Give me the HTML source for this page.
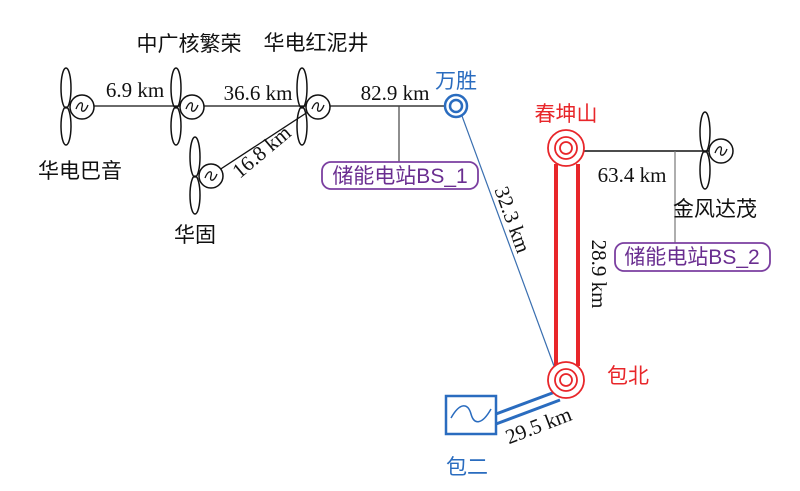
<!DOCTYPE html>
<html><head><meta charset="utf-8"><style>
body{margin:0;background:#fff;}
svg{display:block;}
.cn{font-family:"Liberation Sans","Noto Sans CJK SC",sans-serif;font-size:21px;}
.km{font-family:"Liberation Serif",serif;font-size:21px;fill:#111;}
</style></head><body>
<svg width="800" height="491" viewBox="0 0 800 491" xmlns="http://www.w3.org/2000/svg">
<defs>
<g id="wt">
  <ellipse cx="-16" cy="-19" rx="5" ry="20" fill="none" stroke="#111" stroke-width="1.5"/>
  <ellipse cx="-16" cy="19" rx="5" ry="19" fill="none" stroke="#111" stroke-width="1.5"/>
  <circle cx="0" cy="0" r="12" fill="#fff" stroke="#111" stroke-width="1.5"/>
  <path d="M-6,2 C-3,-6 2,-6 0,0 C-2,6 3,6 6,-2" fill="none" stroke="#111" stroke-width="1.3"/>
</g>
</defs>
<line x1="82" y1="106" x2="450" y2="106" stroke="#111" stroke-width="1.3"/>
<line x1="210" y1="176" x2="317" y2="106" stroke="#111" stroke-width="1.3"/>
<line x1="399" y1="106" x2="399" y2="163" stroke="#444" stroke-width="1.2"/>
<line x1="462" y1="116" x2="554" y2="366" stroke="#3a6fb0" stroke-width="1.2"/>
<line x1="583" y1="151" x2="716" y2="151" stroke="#111" stroke-width="1.5"/>
<line x1="675" y1="151" x2="675" y2="244" stroke="#777" stroke-width="1.2"/>
<line x1="556" y1="164" x2="556" y2="366" stroke="#e8262a" stroke-width="4"/>
<line x1="578" y1="164" x2="578" y2="366" stroke="#e8262a" stroke-width="4"/>
<line x1="496" y1="414" x2="555" y2="392" stroke="#2a6cbf" stroke-width="3"/>
<line x1="496" y1="424" x2="560" y2="400" stroke="#2a6cbf" stroke-width="3"/>
<use href="#wt" x="82" y="107"/>
<use href="#wt" x="192" y="107"/>
<use href="#wt" x="318" y="107"/>
<use href="#wt" x="211" y="176"/>
<use href="#wt" x="721" y="151"/>
<circle cx="456" cy="106" r="11" fill="#fff" stroke="#2a6cbf" stroke-width="2.5"/>
<circle cx="456" cy="106" r="6" fill="none" stroke="#2a6cbf" stroke-width="2.5"/>
<circle cx="566" cy="148" r="18" fill="#fff" stroke="#e8262a" stroke-width="1.8"/>
<circle cx="566" cy="148" r="11" fill="none" stroke="#e8262a" stroke-width="1.8"/>
<circle cx="566" cy="148" r="6" fill="none" stroke="#e8262a" stroke-width="1.8"/>
<circle cx="566" cy="380" r="18" fill="#fff" stroke="#e8262a" stroke-width="1.8"/>
<circle cx="566" cy="380" r="11" fill="none" stroke="#e8262a" stroke-width="1.8"/>
<circle cx="566" cy="380" r="6" fill="none" stroke="#e8262a" stroke-width="1.8"/>
<rect x="446" y="396" width="50" height="38" fill="#fff" stroke="#2a6cbf" stroke-width="2.5"/>
<path d="M451,418 C460,402 468,403 471,414 C474,425 482,425 491,409" fill="none" stroke="#2a6cbf" stroke-width="1.5"/>
<rect x="322" y="162" width="156" height="27" rx="9" fill="#fff" stroke="#7b3fa0" stroke-width="1.8"/>
<text x="400" y="183" class="cn" fill="#6a2e90" text-anchor="middle" font-size="19">储能电站BS_1</text>
<rect x="615" y="243" width="155" height="28" rx="9" fill="#fff" stroke="#7b3fa0" stroke-width="1.8"/>
<text x="692" y="264" class="cn" fill="#6a2e90" text-anchor="middle" font-size="19">储能电站BS_2</text>
<text x="189" y="51" class="cn" fill="#111" text-anchor="middle">中广核繁荣</text>
<text x="316" y="50" class="cn" fill="#111" text-anchor="middle">华电红泥井</text>
<text x="80" y="178" class="cn" fill="#111" text-anchor="middle">华电巴音</text>
<text x="195" y="242" class="cn" fill="#111" text-anchor="middle">华固</text>
<text x="456" y="88" class="cn" fill="#2a6cbf" text-anchor="middle">万胜</text>
<text x="566" y="121" class="cn" fill="#e8262a" text-anchor="middle">春坤山</text>
<text x="628" y="383" class="cn" fill="#e8262a" text-anchor="middle">包北</text>
<text x="467" y="474" class="cn" fill="#2a6cbf" text-anchor="middle">包二</text>
<text x="715" y="216" class="cn" fill="#111" text-anchor="middle">金风达茂</text>
<text x="135" y="97" class="km" text-anchor="middle">6.9 km</text>
<text x="258" y="100" class="km" text-anchor="middle">36.6 km</text>
<text x="395" y="100" class="km" text-anchor="middle">82.9 km</text>
<text x="632" y="182" class="km" text-anchor="middle">63.4 km</text>
<text class="km" text-anchor="middle" transform="translate(266,157) rotate(-40)">16.8 km</text>
<text class="km" text-anchor="middle" transform="translate(506,222) rotate(70)">32.3 km</text>
<text class="km" text-anchor="middle" transform="translate(592,274) rotate(90)">28.9 km</text>
<text class="km" text-anchor="middle" transform="translate(541,432) rotate(-21)">29.5 km</text>
</svg>
</body></html>
